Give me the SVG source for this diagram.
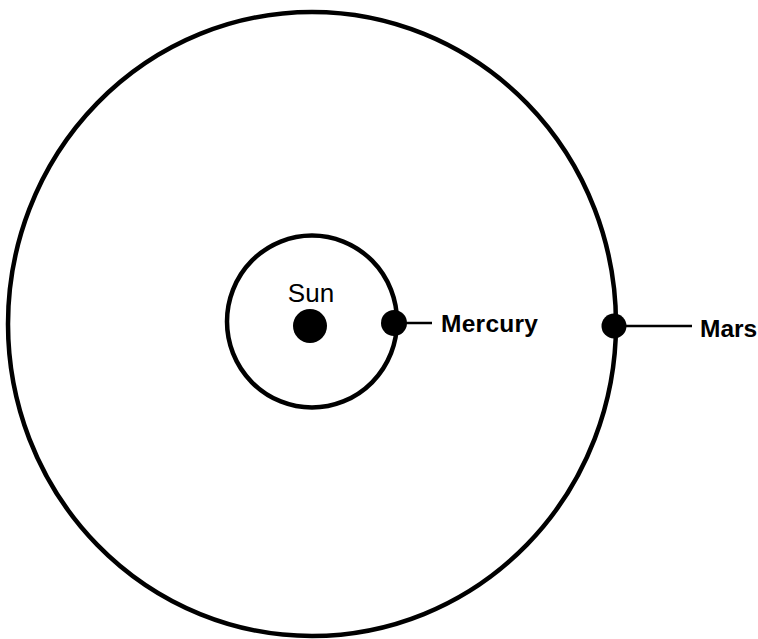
<svg xmlns="http://www.w3.org/2000/svg" width="758" height="639" viewBox="0 0 758 639">
<style>
.orbit{fill:none;stroke:#000;stroke-width:4.5}
.body{fill:#000}
.lead{stroke:#000;stroke-width:2.5}
.lbl{font-family:"Liberation Sans",Arial,sans-serif;fill:#000}
</style>
<rect width="758" height="639" fill="#fff"/>
<g id="mars-orbit"><ellipse class="orbit" cx="312" cy="324" rx="304" ry="312"/></g>
<g id="mercury-orbit"><ellipse class="orbit" cx="312" cy="321.5" rx="85" ry="86"/></g>
<g id="connectors">
<line class="lead" x1="400" y1="323" x2="432" y2="323"/>
<line class="lead" x1="620" y1="326" x2="692" y2="326"/>
</g>
<g id="sun">
<circle class="body" cx="310" cy="326" r="17"/>
<text class="lbl" x="311" y="302" font-size="26" text-anchor="middle">Sun</text>
</g>
<g id="mercury">
<circle class="body" cx="394" cy="323" r="13"/>
<text class="lbl" x="441" y="332" font-size="24.5" font-weight="bold" textLength="97">Mercury</text>
</g>
<g id="mars">
<circle class="body" cx="614" cy="326" r="12.5"/>
<text class="lbl" x="700" y="337" font-size="24.5" font-weight="bold">Mars</text>
</g>
</svg>
